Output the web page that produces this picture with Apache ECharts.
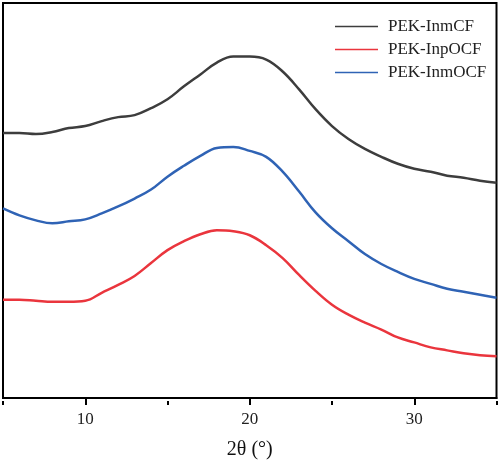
<!DOCTYPE html>
<html>
<head>
<meta charset="utf-8">
<script src="https://cdn.jsdelivr.net/npm/echarts@6/dist/echarts.min.js"></script>
<style>html,body{margin:0;padding:0;background:#fff}#c{width:500px;height:465px}</style>
</head>
<body>
<div id="c"></div>
<script>
// 2θ positions (degrees)
var twoTheta = [5,6,7,8,9,10,11,12,13,14,15,16,17,18,19,20,21,22,23,24,25,26,27,28,29,30,31,32,33,34,35];
// intensities (arbitrary units)
var inmCF  = [267,267,266,268,272,274,279,283,285,292,301,314,326,338,344,344,341,329,311,291,274,261,251,243,236,231,228,224,222,219,217];
var inpOCF = [99,99,98,97,97,98,106,114,123,136,149,158,165,169,168,164,154,141,124,108,94,84,76,69,61,56,51,48,45,43,42];
var inmOCF = [191,184,179,176,178,180,186,193,201,210,223,234,244,252,253,249,243,228,208,187,171,158,145,135,127,120,115,110,107,104,101];
var seriesNames = ['PEK-InmCF','PEK-InpOCF','PEK-InmOCF'];
var majorTicks = [10,20,30];
var minorTicks = [5,15,25,35];

function pairs(ys){ return twoTheta.map(function(x,i){ return [x, ys[i]]; }); }

var font = 'Liberation Serif';
var chart = echarts.init(document.getElementById('c'));
chart.setOption({
  animation: false,
  backgroundColor: '#fff',
  grid: [
    {left: 3, right: 3.5, top: 3, bottom: 64, show: true, borderColor: '#000', borderWidth: 2, containLabel: false},
    {left: 3, right: 3.5, top: 3, bottom: 64, show: false, containLabel: false}
  ],
  legend: {
    orient: 'vertical', left: 330, top: 13,
    icon: 'rect', itemWidth: 43, itemHeight: 1.6, itemGap: 6,
    data: seriesNames,
    textStyle: {fontFamily: font, fontSize: 17, lineHeight: 17, color: '#222', padding: [0,0,0,5]}
  },
  xAxis: [
    {
      type: 'value', min: 5, max: 35, gridIndex: 0,
      name: '2θ (°)', nameLocation: 'middle', nameGap: 42,
      nameTextStyle: {fontFamily: font, fontSize: 20, color: '#111'},
      axisLine: {show: true, lineStyle: {color: '#000', width: 2}},
      axisTick: {show: true, inside: false, length: 7, lineStyle: {color: '#000', width: 2}, customValues: majorTicks},
      axisLabel: {show: true, margin: 13, fontFamily: font, fontSize: 17, color: '#222', customValues: majorTicks},
      splitLine: {show: false}
    },
    {
      type: 'value', min: 5, max: 35, gridIndex: 1,
      axisLine: {show: false},
      axisTick: {show: true, inside: false, length: 4, lineStyle: {color: '#000', width: 2}, customValues: minorTicks},
      axisLabel: {show: false},
      splitLine: {show: false}
    }
  ],
  yAxis: [
    {type: 'value', min: 0, max: 398, gridIndex: 0, show: false},
    {type: 'value', min: 0, max: 398, gridIndex: 1, show: false}
  ],
  series: [
    {name: seriesNames[0], type: 'line', data: pairs(inmCF), smooth: 0.4, symbol: 'none', lineStyle: {color: '#3d3d3d', width: 2.5}, itemStyle: {color: '#3d3d3d'}},
    {name: seriesNames[1], type: 'line', data: pairs(inpOCF), smooth: 0.4, symbol: 'none', lineStyle: {color: '#ea353d', width: 2.5}, itemStyle: {color: '#ea353d'}},
    {name: seriesNames[2], type: 'line', data: pairs(inmOCF), smooth: 0.4, symbol: 'none', lineStyle: {color: '#2f63b5', width: 2.5}, itemStyle: {color: '#2f63b5'}}
  ]
});
</script>
</body>
</html>
